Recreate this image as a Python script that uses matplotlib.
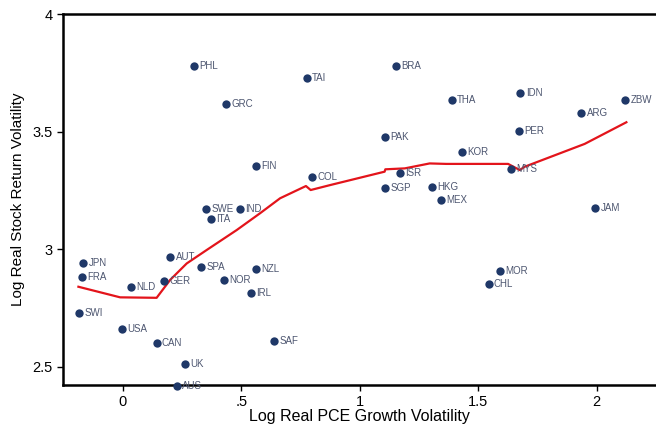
import matplotlib.pyplot as plt

# country codes with log PCE growth volatility (x) and log stock return volatility (y)
countries = ["PHL", "TAI", "GRC", "BRA", "THA", "IDN", "ZBW", "ARG", "PAK", "PER",
             "KOR", "FIN", "COL", "ISR", "MYS", "SGP", "HKG", "MEX", "JAM", "SWE",
             "IND", "ITA", "AUT", "JPN", "FRA", "SPA", "NZL", "GER", "NOR", "NLD",
             "IRL", "MOR", "CHL", "SWI", "USA", "CAN", "SAF", "UK", "AUS"]
pce_vol = [0.300, 0.776, 0.436, 1.154, 1.389, 1.678, 2.121, 1.935, 1.108, 1.673,
           1.430, 0.564, 0.800, 1.169, 1.638, 1.108, 1.304, 1.344, 1.993, 0.353,
           0.495, 0.372, 0.201, -0.166, -0.173, 0.330, 0.561, 0.173, 0.429, 0.034,
           0.541, 1.593, 1.544, -0.184, -0.002, 0.143, 0.640, 0.264, 0.228]
stock_vol = [3.779, 3.728, 3.619, 3.779, 3.636, 3.663, 3.636, 3.578, 3.478, 3.503,
             3.414, 3.355, 3.309, 3.325, 3.340, 3.260, 3.265, 3.211, 3.175, 3.170,
             3.170, 3.130, 2.967, 2.941, 2.882, 2.927, 2.916, 2.864, 2.870, 2.839,
             2.814, 2.909, 2.854, 2.731, 2.660, 2.600, 2.612, 2.513, 2.420]

# smoothed fit
fit_x = [-0.187, -0.011, 0.143, 0.200, 0.270, 0.354, 0.481, 0.579, 0.664, 0.773,
         0.793, 0.875, 1.105, 1.108, 1.190, 1.295, 1.365, 1.626, 1.675, 1.696,
         1.949, 2.125]
fit_y = [2.841, 2.796, 2.794, 2.870, 2.940, 2.997, 3.082, 3.153, 3.217, 3.269,
         3.252, 3.273, 3.330, 3.340, 3.344, 3.365, 3.363, 3.363, 3.337, 3.351,
         3.448, 3.540]

plt.rcParams['font.family'] = ['Liberation Sans', 'DejaVu Sans']

fig = plt.figure(figsize=(6.56, 4.26), dpi=100)
ax = fig.add_axes([63 / 656, 41 / 426, 1 - 63 / 656, 371 / 426])

ax.scatter(pce_vol, stock_vol, s=36, color="#1f3868", zorder=3, clip_on=False,
           linewidths=0)
for c, x, y in zip(countries, pce_vol, stock_vol):
    ax.annotate(c, (x, y), xytext=(3.8, 0), textcoords="offset points",
                va="center", ha="left", fontsize=7, color="#4d5670",
                annotation_clip=False)

ax.plot(fit_x, fit_y, color="#e3141b", lw=1.6, zorder=2)

ax.set_xlim(-0.252, 2.25)
ax.set_ylim(2.4235, 4.0)
ax.set_xticks([0, 0.5, 1, 1.5, 2])
ax.set_xticklabels(["0", ".5", "1", "1.5", "2"])
ax.set_yticks([2.5, 3, 3.5, 4])
ax.set_yticklabels(["2.5", "3", "3.5", "4"])
ax.tick_params(direction="out", length=4.5, width=1, labelsize=10.5, pad=3)

for side in ["left", "bottom", "top"]:
    ax.spines[side].set_linewidth(1.8)
ax.spines["right"].set_visible(False)

ax.set_xlabel("Log Real PCE Growth Volatility", fontsize=11.5, labelpad=0)
ax.set_ylabel("Log Real Stock Return Volatility", fontsize=11, labelpad=5)

fig.savefig("out.png", dpi=100)
